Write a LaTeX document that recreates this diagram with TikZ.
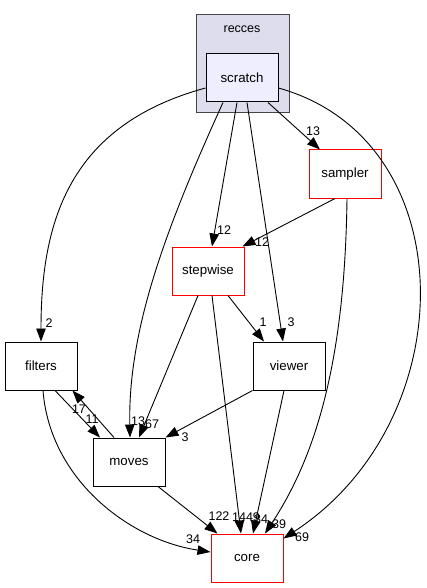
\documentclass[tikz,border=0pt]{standalone}
\usepackage{fontspec}
\setmainfont{Liberation Sans}
\usetikzlibrary{arrows.meta}

\definecolor{Cluster}{HTML}{DDDDEE}
\definecolor{ClusterLine}{HTML}{444444}
\definecolor{Scratch}{HTML}{EEEEFF}

\begin{document}
\begin{tikzpicture}[x=1pt, y=-1pt,
  dir/.style={draw=black, fill=white, line width=1, minimum width=72pt, minimum height=48pt, inner sep=0pt, font=\fontsize{13.3}{15}\selectfont},
  bigdir/.style={dir, draw=red},
  dep/.style={line width=0.9, -{Triangle[length=13pt,width=9.5pt]}},
  num/.style={inner sep=0pt, font=\fontsize{12.5}{14}\selectfont}]

  \useasboundingbox (0,0) rectangle (426,588);

  %%%%%%%%%% Cluster recces %%%%%%%%%%
  \filldraw [fill=Cluster, draw=ClusterLine, line width=1] (196,15) rectangle (289,113);
  \node [font=\fontsize{12.5}{14}\selectfont] (recces) at (242,29) {recces};

  %%%%%%%%%% Directories %%%%%%%%%%
  \node [dir, fill=Scratch] (scratch) at (242,78) {scratch};
  \node [bigdir] (sampler) at (345,174) {sampler};
  \node [bigdir] (stepwise) at (208,271) {stepwise};
  \node [dir] (viewer) at (289,366) {viewer};
  \node [dir] (filters) at (41,366) {filters};
  \node [dir] (moves) at (129,462) {moves};
  \node [bigdir] (core) at (247,558) {core};

  %%%%%%%%%% Dependencies from scratch %%%%%%%%%%
  \draw [dep] ([yshift=-10pt]scratch.west) .. controls (70,125) and (41,220) .. (filters.north);
  \draw [dep] ([xshift=-19pt]scratch.south) .. controls (165,230) and (128,330) .. ([xshift=1pt]moves.north);
  \draw [dep] ([xshift=-5pt]scratch.south) -- ([xshift=4pt]stepwise.north);
  \draw [dep] ([xshift=5pt]scratch.south) -- ([xshift=-6pt]viewer.north);
  \draw [dep] ([xshift=26pt]scratch.south) -- ([xshift=-25pt]sampler.north);
  \draw [dep] ([yshift=-10pt]scratch.east) .. controls (465,140) and (465,420) .. ([yshift=-5pt]core.north east);

  %%%%%%%%%% Other dependencies %%%%%%%%%%
  \draw [dep] ([xshift=-10pt]sampler.south) -- ([xshift=-2pt]stepwise.north east);
  \draw [dep] ([xshift=2pt]sampler.south) .. controls (345,350) and (320,450) .. ([xshift=18pt]core.north);
  \draw [dep] ([xshift=20pt]stepwise.south) -- ([xshift=-25pt]viewer.north);
  \draw [dep] ([xshift=-10pt]stepwise.south) -- ([xshift=10pt]moves.north);
  \draw [dep] ([xshift=4pt]stepwise.south) -- ([xshift=-6pt]core.north);
  \draw [dep] (viewer.south west) -- (moves.north east);
  \draw [dep] ([xshift=-5pt]viewer.south) -- ([xshift=6pt]core.north);
  \draw [dep] ([xshift=14pt]filters.south) -- ([xshift=-29pt]moves.north);
  \draw [dep] ([xshift=-15pt]moves.north) -- ([xshift=-5pt]filters.south east);
  \draw [dep] ([xshift=29pt]moves.south) -- ([xshift=7pt]core.north west);
  \draw [dep] ([xshift=2pt]filters.south) .. controls (50,480) and (130,540) .. ([yshift=6pt]core.west);

  %%%%%%%%%% Edge labels %%%%%%%%%%
  \node [num] (l2) at (49,323) {2};
  \node [num] (l13m) at (138,421) {13};
  \node [num] (l67) at (152,424) {67};
  \node [num] (l3m) at (185,437) {3};
  \node [num] (l17) at (79,409) {17};
  \node [num] (l11) at (92,419) {11};
  \node [num] (l12a) at (224,230) {12};
  \node [num] (l12b) at (262,242) {12};
  \node [num] (l13s) at (313,131) {13};
  \node [num] (l1) at (263,322) {1};
  \node [num] (l3v) at (291,322) {3};
  \node [num] (l122) at (219,516) {122};
  \node [num] (l1449) at (246,517) {1449};
  \node [num] (l34v) at (261,519) {34};
  \node [num] (l39) at (279,524) {39};
  \node [num] (l69) at (302,537) {69};
  \node [num] (l34f) at (193,539) {34};

\end{tikzpicture}
\end{document}
